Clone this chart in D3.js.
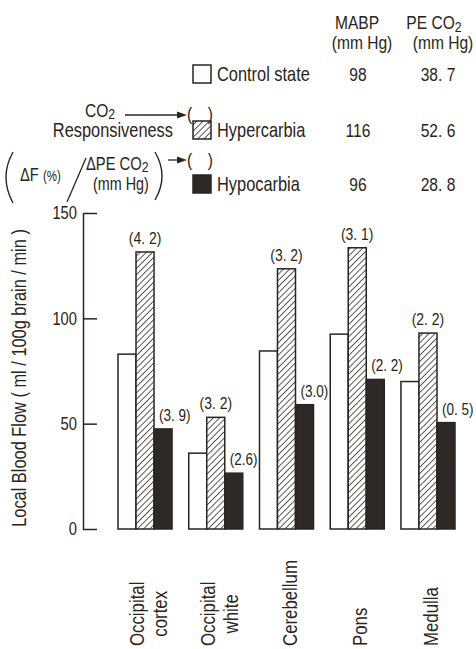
<!DOCTYPE html>
<html>
<head>
<meta charset="utf-8">
<script src="https://cdn.jsdelivr.net/npm/d3@7"></script>
<style>
  body { margin: 0; background: #fff; }
  svg text { font-family: "Liberation Sans", Arial, sans-serif; fill: #2a2421; }
</style>
</head>
<body>
<svg id="chart" width="476" height="649"></svg>
<script>
// DATA
var regions = ["Occipital cortex", "Occipital white", "Cerebellum", "Pons", "Medulla"];
var series = ["control", "hyper", "hypo"];
var control = [83, 36, 84.5, 92.5, 70];
var hyper = [131.5, 53, 123.5, 133.5, 93];
var hypo = [47.5, 26.5, 59, 71, 50.5];
var hyperLabels = ["(4. 2)", "(3. 2)", "(3. 2)", "(3. 1)", "(2. 2)"];
var hypoLabels = ["(3. 9)", "(2.6)", "(3.0)", "(2. 2)", "(0. 5)"];
var yTicks = [0, 50, 100, 150];
var legendNames = ["Control state", "Hypercarbia", "Hypocarbia"];
var mabp = ["98", "116", "96"];
var peco2 = ["38. 7", "52. 6", "28. 8"];

var ink = "#2a2421";
var squeeze = 0.82; // the original type is a condensed face
var svg = d3.select("#chart");

// hatch pattern
var defs = svg.append("defs");
var pat = defs.append("pattern")
	.attr("id", "hatch")
	.attr("patternUnits", "userSpaceOnUse")
	.attr("width", 4.4).attr("height", 4.4)
	.attr("patternTransform", "rotate(45)");
pat.append("rect").attr("width", 4.4).attr("height", 4.4).attr("fill", "#fff");
pat.append("line").attr("x1", 0).attr("y1", 0).attr("x2", 0).attr("y2", 4.4)
	.attr("stroke", ink).attr("stroke-width", 1.5);

var fills = { control: "#fff", hyper: "url(#hatch)", hypo: "#2e2926" };

// SCALES
var y = d3.scaleLinear().domain([0, 150]).range([529, 213]);
var x0 = d3.scaleBand().domain(regions).range([118, 455]).paddingInner(0.236);
var x1 = d3.scaleBand().domain(series).range([0, x0.bandwidth()]);

var rows = regions.map(function(r, i) {
	return { region: r, control: control[i], hyper: hyper[i], hypo: hypo[i], hl: hyperLabels[i], ol: hypoLabels[i] };
});

// y axis
var yAxis = svg.append("g")
	.attr("transform", "translate(83,0)")
	.call(d3.axisLeft(y).tickValues(yTicks).tickSizeInner(-14).tickSizeOuter(0).tickPadding(6));
yAxis.select(".domain").attr("stroke", ink).attr("stroke-width", 1.5);
yAxis.selectAll(".tick line").attr("stroke", ink).attr("stroke-width", 1.5);
yAxis.selectAll(".tick text").attr("font-size", 18).attr("font-family", null).style("fill", ink);

svg.append("text")
	.attr("transform", "translate(26,378) rotate(-90)")
	.attr("text-anchor", "middle")
	.attr("font-size", 20)
	.text("Local Blood Flow ( ml / 100g brain / min )");

// bars
var groups = svg.selectAll(".grp")
	.data(rows).enter().append("g")
	.attr("class", "grp")
	.attr("transform", function(d) { return "translate(" + x0(d.region) + ",0)"; });

groups.selectAll("rect")
	.data(function(d) { return series.map(function(s) { return { key: s, value: d[s] }; }); })
	.enter().append("rect")
	.attr("x", function(d) { return x1(d.key); })
	.attr("y", function(d) { return y(d.value); })
	.attr("width", x1.bandwidth())
	.attr("height", function(d) { return y(0) - y(d.value); })
	.attr("fill", function(d) { return fills[d.key]; })
	.attr("stroke", ink).attr("stroke-width", 1.5);

// responsiveness labels
groups.append("text")
	.attr("x", x1("hyper") + x1.bandwidth() / 2)
	.attr("y", function(d) { return y(d.hyper) - 8; })
	.attr("text-anchor", "middle")
	.attr("font-size", 17)
	.text(function(d) { return d.hl; });
groups.append("text")
	.attr("x", x1("hypo") + 5)
	.attr("y", function(d) { return y(d.hypo) - 8; })
	.attr("font-size", 16.5)
	.text(function(d) { return d.ol; });

// category labels (rotated)
groups.each(function(d) {
	var g = d3.select(this);
	var lines = d.region.split(" ");
	var cx = x0.bandwidth() / 2 + (lines.length > 1 ? -8 : 3);
	var t0 = g.append("text")
		.attr("transform", "translate(" + (cx + 7) + ",646) rotate(-90)")
		.attr("font-size", 20.5)
		.text(lines[0]);
	var len = t0.node().getComputedTextLength() * squeeze;
	lines.slice(1).forEach(function(l, j) {
		g.append("text")
			.attr("transform", "translate(" + (cx + 7 + 23 * (j + 1)) + "," + (646 - len / 2) + ") rotate(-90)")
			.attr("text-anchor", "middle")
			.attr("font-size", 20.5)
			.text(l);
	});
});

// LEGEND
var lg = svg.append("g");
function head(txt, cx, yy, sub) {
	var t = lg.append("text").attr("x", cx).attr("y", yy).attr("text-anchor", "middle").attr("font-size", 19).text(txt);
	if (sub) t.append("tspan").attr("dy", 3).attr("font-size", 15).text(sub);
	return t;
}
head("MABP", 357, 29);
head("(mm Hg)", 362, 49);
head("PE CO", 434, 29, "2");
head("(mm Hg)", 443, 49);

var rowY = [74, 130, 184];
legendNames.forEach(function(n, i) {
	var key = series[i];
	lg.append("rect").attr("x", 193).attr("y", rowY[i] - 9).attr("width", 18).attr("height", 18)
		.attr("fill", fills[key]).attr("stroke", ink).attr("stroke-width", 1.5);
	lg.append("text").attr("x", 217).attr("y", rowY[i] + 7).attr("font-size", 20).text(n);
	lg.append("text").attr("x", 358).attr("y", rowY[i] + 7).attr("text-anchor", "middle").attr("font-size", 19).text(mabp[i]);
	lg.append("text").attr("x", 438).attr("y", rowY[i] + 7).attr("text-anchor", "middle").attr("font-size", 19).text(peco2[i]);
});

// CO2 responsiveness annotation
var co = lg.append("text").attr("x", 85).attr("y", 117).attr("font-size", 19).text("CO");
co.append("tspan").attr("dy", 2).attr("font-size", 15).text("2");
lg.append("text").attr("x", 173).attr("y", 137).attr("text-anchor", "end").attr("font-size", 20).text("Responsiveness");

function arrow(xa, xb, yy) {
	lg.append("line").attr("x1", xa).attr("x2", xb - 6).attr("y1", yy).attr("y2", yy).attr("stroke", ink).attr("stroke-width", 1.3);
	lg.append("path").attr("d", "M" + xb + "," + yy + "L" + (xb - 10) + "," + (yy - 3.5) + "L" + (xb - 10) + "," + (yy + 3.5) + "Z").attr("fill", ink);
}
function parens(xa, xb, yy) {
	lg.append("text").attr("x", xa).attr("y", yy).attr("font-size", 19).text("(");
	lg.append("text").attr("x", xb).attr("y", yy).attr("text-anchor", "end").attr("font-size", 19).text(")");
}
arrow(125, 187, 115);
parens(187, 213, 120);

// (ΔF(%) / ΔPE CO2 (mm Hg))
lg.append("path").attr("d", "M13,152 Q-1,177 13,203").attr("fill", "none").attr("stroke", ink).attr("stroke-width", 1.4);
lg.append("path").attr("d", "M155,152 Q169,176 155,200").attr("fill", "none").attr("stroke", ink).attr("stroke-width", 1.4);
var df = lg.append("text").attr("x", 20).attr("y", 181).attr("font-size", 18).text("\u0394F ");
df.append("tspan").attr("font-size", 14).text("(%)");
lg.append("line").attr("x1", 86).attr("y1", 158).attr("x2", 67).attr("y2", 202).attr("stroke", ink).attr("stroke-width", 1.3);
var dp = lg.append("text").attr("x", 86).attr("y", 170).attr("font-size", 18).text("\u0394PE CO");
dp.append("tspan").attr("dy", 2).attr("font-size", 15).text("2");
lg.append("text").attr("x", 93).attr("y", 190).attr("font-size", 17.5).text("(mm Hg)");
arrow(168, 187, 160);
parens(187, 213, 166);

// condense every label: horizontal scale about its own anchor point
svg.selectAll("text").each(function() {
	var t = d3.select(this);
	var tx = +t.attr("x") || 0, ty = +t.attr("y") || 0;
	var prev = t.attr("transform") || "";
	t.attr("x", 0).attr("y", 0)
		.attr("transform", prev + " translate(" + tx + "," + ty + ") scale(" + squeeze + ",1)");
});
</script>
</body>
</html>
